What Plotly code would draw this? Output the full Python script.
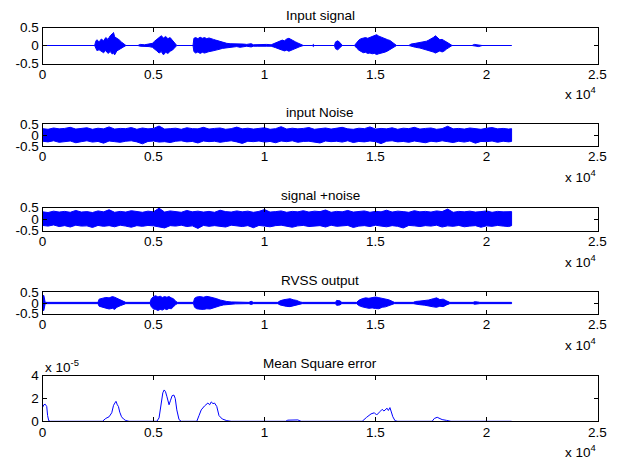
import plotly.graph_objects as go

# ---------------- data ----------------
titles = ["Input signal", "input Noise", "signal +noise", "RVSS output", "Mean Square error"]
x_tick_vals = [0, 5000, 10000, 15000, 20000, 25000]
x_tick_text = ["0", "0.5", "1", "1.5", "2", "2.5"]
y_tick_vals = [-0.5, 0, 0.5]
y_tick_text = ["-0.5", "0", "0.5"]
mse_tick_vals = [0, 2, 4]
mse_tick_text = ["0", "2", "4"]

# Input signal envelope (sample index, upper, lower)
sig_x = [0, 2350, 2400, 2450, 2550, 2650, 2750, 2850, 2950, 3050, 3150, 3200, 3250, 3350, 3450, 3550, 3650, 3760,
         4300, 4400, 4600, 4800, 4950, 5050, 5150, 5250, 5350, 5450, 5550, 5650, 5750, 5850, 5950, 6050,
         6780, 6820, 6900, 7000, 7100, 7200, 7300, 7400, 7500, 7600, 7700, 7800, 7900, 8000, 8100, 8200, 8300,
         8450, 8600, 8750, 8900, 9050, 9200, 9400, 9500, 9700, 9900, 10100, 10300,
         10400, 10500, 10600, 10700, 10800, 10900, 11000, 11100, 11200, 11300, 11400, 11500, 11600, 11750,
         12150, 12200, 12250, 13150, 13200, 13300, 13400, 13500,
         14050, 14150, 14250, 14350, 14450, 14550, 14650, 14750, 14850, 14950, 15050, 15150, 15250, 15350,
         15450, 15550, 15650, 15750, 15850, 15950,
         16500, 16600, 16800, 17000, 17200, 17300, 17400, 17500, 17600, 17700, 17800, 17900, 18000, 18100,
         18200, 18300, 18450, 19350, 19450, 19550, 19650, 19800, 21130]
sig_up = [0, 0, 0.12, 0.16, 0.10, 0.18, 0.13, 0.22, 0.17, 0.27, 0.33, 0.36, 0.24, 0.21, 0.16, 0.10, 0.05, 0,
          0, 0.03, 0.02, 0.04, 0.06, 0.12, 0.18, 0.22, 0.27, 0.21, 0.25, 0.19, 0.22, 0.14, 0.08, 0,
          0, 0.20, 0.22, 0.19, 0.23, 0.20, 0.22, 0.19, 0.21, 0.18, 0.17, 0.15, 0.13, 0.11, 0.09, 0.07, 0.06,
          0.05, 0.05, 0.04, 0.06, 0.04, 0.03, 0.05, 0.02, 0.03, 0.02, 0.03, 0.02,
          0.05, 0.07, 0.09, 0.12, 0.15, 0.13, 0.18, 0.20, 0.16, 0.12, 0.10, 0.07, 0.04, 0,
          0, 0.03, 0, 0, 0.10, 0.13, 0.08, 0,
          0, 0.08, 0.15, 0.19, 0.21, 0.22, 0.20, 0.23, 0.24, 0.27, 0.30, 0.26, 0.23, 0.21,
          0.19, 0.16, 0.14, 0.10, 0.05, 0,
          0, 0.04, 0.06, 0.08, 0.10, 0.12, 0.15, 0.18, 0.22, 0.27, 0.20, 0.16, 0.17, 0.14,
          0.11, 0.06, 0, 0, 0.03, 0.02, 0.03, 0, 0]
sig_lo = [0, 0, -0.08, -0.14, -0.12, -0.16, -0.20, -0.14, -0.22, -0.17, -0.24, -0.20, -0.26, -0.15, -0.13, -0.08, -0.04, 0,
          0, -0.02, -0.03, -0.03, -0.05, -0.10, -0.15, -0.21, -0.17, -0.26, -0.19, -0.22, -0.16, -0.13, -0.07, 0,
          0, -0.17, -0.21, -0.18, -0.22, -0.19, -0.21, -0.18, -0.17, -0.16, -0.15, -0.14, -0.12, -0.10, -0.08, -0.06, -0.05,
          -0.04, -0.04, -0.03, -0.05, -0.03, -0.02, -0.04, -0.02, -0.02, -0.01, -0.02, -0.02,
          -0.04, -0.06, -0.08, -0.10, -0.13, -0.15, -0.13, -0.16, -0.14, -0.11, -0.09, -0.06, -0.03, 0,
          0, -0.03, 0, 0, -0.09, -0.12, -0.07, 0,
          0, -0.07, -0.13, -0.17, -0.20, -0.19, -0.22, -0.21, -0.23, -0.22, -0.25, -0.23, -0.21, -0.19,
          -0.18, -0.15, -0.13, -0.09, -0.04, 0,
          0, -0.03, -0.05, -0.07, -0.09, -0.11, -0.14, -0.16, -0.18, -0.21, -0.17, -0.15, -0.18, -0.15,
          -0.10, -0.05, 0, 0, -0.03, -0.02, -0.03, 0, 0]

# Noise and signal+noise envelopes (every 250 samples up to the end at 21130)
band_x = list(range(0, 21001, 250)) + [21130]
noise_up = [0.30, 0.27, 0.33, 0.29, 0.31, 0.36, 0.28, 0.30, 0.34, 0.27,
            0.32, 0.29, 0.38, 0.28, 0.31, 0.30, 0.35, 0.27, 0.33, 0.29,
            0.31, 0.42, 0.28, 0.30, 0.32, 0.27, 0.34, 0.30, 0.29, 0.36,
            0.28, 0.31, 0.33, 0.27, 0.30, 0.37, 0.29, 0.32, 0.28, 0.31,
            0.34, 0.27, 0.30, 0.39, 0.28, 0.32, 0.29, 0.31, 0.35, 0.27,
            0.30, 0.33, 0.28, 0.31, 0.36, 0.29, 0.27, 0.32, 0.30, 0.38,
            0.28, 0.31, 0.29, 0.34, 0.27, 0.32, 0.30, 0.36, 0.28, 0.31,
            0.33, 0.27, 0.30, 0.41, 0.29, 0.31, 0.28, 0.33, 0.30, 0.27,
            0.32, 0.35, 0.29, 0.31, 0.28, 0.30]
noise_lo = [-0.28, -0.31, -0.26, -0.33, -0.29, -0.27, -0.35, -0.30, -0.26, -0.32,
            -0.29, -0.37, -0.27, -0.30, -0.33, -0.28, -0.26, -0.31, -0.40, -0.29,
            -0.27, -0.32, -0.30, -0.34, -0.28, -0.26, -0.31, -0.29, -0.36, -0.27,
            -0.30, -0.28, -0.33, -0.29, -0.26, -0.31, -0.38, -0.28, -0.30, -0.27,
            -0.32, -0.29, -0.35, -0.27, -0.30, -0.26, -0.33, -0.29, -0.28, -0.31,
            -0.36, -0.27, -0.30, -0.28, -0.32, -0.26, -0.34, -0.29, -0.31, -0.27,
            -0.30, -0.39, -0.28, -0.26, -0.31, -0.29, -0.33, -0.27, -0.30, -0.35,
            -0.28, -0.31, -0.26, -0.30, -0.34, -0.28, -0.32, -0.27, -0.37, -0.29,
            -0.30, -0.27, -0.33, -0.28, -0.31, -0.29]
sn_up = [0.32, 0.29, 0.35, 0.31, 0.34, 0.30, 0.38, 0.31, 0.33, 0.29,
         0.36, 0.32, 0.41, 0.30, 0.34, 0.31, 0.37, 0.33, 0.30, 0.35,
         0.32, 0.48, 0.31, 0.36, 0.33, 0.30, 0.38, 0.32, 0.35, 0.31,
         0.34, 0.30, 0.39, 0.33, 0.31, 0.36, 0.32, 0.35, 0.30, 0.34,
         0.42, 0.31, 0.33, 0.36, 0.30, 0.34, 0.32, 0.37, 0.31, 0.35,
         0.33, 0.40, 0.30, 0.34, 0.32, 0.38, 0.31, 0.33, 0.36, 0.30,
         0.34, 0.32, 0.39, 0.31, 0.35, 0.33, 0.30, 0.37, 0.32, 0.34,
         0.31, 0.36, 0.33, 0.44, 0.30, 0.34, 0.32, 0.35, 0.31, 0.33,
         0.36, 0.30, 0.34, 0.32, 0.31, 0.33]
sn_lo = [-0.27, -0.30, -0.25, -0.32, -0.28, -0.34, -0.26, -0.30, -0.29, -0.36,
         -0.27, -0.31, -0.28, -0.33, -0.26, -0.30, -0.35, -0.28, -0.31, -0.27,
         -0.29, -0.33, -0.38, -0.28, -0.30, -0.26, -0.32, -0.29, -0.40, -0.27,
         -0.31, -0.28, -0.30, -0.34, -0.26, -0.29, -0.32, -0.28, -0.37, -0.27,
         -0.30, -0.33, -0.28, -0.26, -0.31, -0.35, -0.29, -0.27, -0.32, -0.30,
         -0.28, -0.34, -0.26, -0.31, -0.29, -0.27, -0.36, -0.30, -0.28, -0.32,
         -0.26, -0.30, -0.33, -0.28, -0.31, -0.38, -0.27, -0.29, -0.32, -0.28,
         -0.30, -0.26, -0.34, -0.29, -0.31, -0.27, -0.33, -0.30, -0.28, -0.35,
         -0.29, -0.31, -0.27, -0.30, -0.32, -0.28]

# RVSS output envelope
rv_x = [0, 60, 120, 2500, 2550, 2700, 2850, 3000, 3150, 3250, 3350, 3500, 3650, 3750,
        4850, 4900, 5000, 5100, 5200, 5300, 5400, 5500, 5600, 5700, 5800, 5900, 6000, 6080,
        6800, 6850, 6950, 7100, 7250, 7400, 7550, 7700, 7850, 8000, 8150, 8300, 8500, 8700, 9300, 9400, 9500,
        10600, 10700, 10850, 11000, 11150, 11300, 11450, 11600, 11700,
        13200, 13250, 13400, 13480,
        14150, 14250, 14400, 14550, 14700, 14850, 15000, 15150, 15300, 15450, 15600, 15750, 15850,
        16700, 16800, 17000, 17200, 17400, 17600, 17750, 17900, 18050, 18200, 18350,
        19400, 19450, 19600, 19700, 21130]
rv_up = [0.35, 0.35, 0.03, 0.03, 0.18, 0.22, 0.26, 0.24, 0.30, 0.27, 0.22, 0.14, 0.06, 0.03,
         0.03, 0.20, 0.30, 0.34, 0.28, 0.32, 0.26, 0.30, 0.27, 0.30, 0.24, 0.20, 0.08, 0.03,
         0.03, 0.22, 0.28, 0.30, 0.27, 0.31, 0.28, 0.25, 0.20, 0.14, 0.10, 0.07, 0.05, 0.04, 0.03, 0.08, 0.03,
         0.03, 0.10, 0.15, 0.18, 0.20, 0.15, 0.12, 0.05, 0.03,
         0.03, 0.12, 0.10, 0.03,
         0.03, 0.13, 0.20, 0.24, 0.22, 0.26, 0.28, 0.25, 0.22, 0.20, 0.15, 0.08, 0.03,
         0.03, 0.07, 0.09, 0.11, 0.14, 0.20, 0.24, 0.16, 0.18, 0.10, 0.03,
         0.03, 0.06, 0.05, 0.03, 0.03]
rv_lo = [-0.35, -0.35, -0.03, -0.03, -0.15, -0.20, -0.24, -0.28, -0.25, -0.30, -0.20, -0.13, -0.06, -0.03,
         -0.03, -0.18, -0.28, -0.30, -0.35, -0.30, -0.33, -0.27, -0.31, -0.25, -0.27, -0.18, -0.07, -0.03,
         -0.03, -0.20, -0.27, -0.29, -0.30, -0.27, -0.28, -0.23, -0.19, -0.13, -0.09, -0.06, -0.05, -0.04, -0.03, -0.07, -0.03,
         -0.03, -0.09, -0.14, -0.16, -0.17, -0.14, -0.10, -0.05, -0.03,
         -0.03, -0.11, -0.09, -0.03,
         -0.03, -0.12, -0.18, -0.22, -0.25, -0.23, -0.26, -0.27, -0.20, -0.18, -0.14, -0.07, -0.03,
         -0.03, -0.06, -0.08, -0.10, -0.13, -0.18, -0.20, -0.15, -0.17, -0.09, -0.03,
         -0.03, -0.06, -0.05, -0.03, -0.03]

# Mean square error (values in units of 1e-5)
mse_x = [0, 60, 120, 190, 230, 280, 350,
         2700, 2850, 3000, 3120, 3200, 3260, 3310, 3370, 3420, 3480, 3560, 3650, 3750, 3900,
         5150, 5250, 5330, 5420, 5480, 5540, 5600, 5660, 5700, 5760, 5840, 5920, 5980, 6050, 6150, 6250,
         6950, 7050, 7150, 7300, 7450, 7530, 7600, 7680, 7750, 7850, 7950, 8100, 8300, 8500,
         10950, 11050, 11500, 11650,
         14400, 14600, 14800, 14950, 15050, 15200, 15300, 15380, 15450, 15520, 15580, 15650, 15700, 15780, 15880, 16000,
         17550, 17650, 17780, 17900, 18000, 18200, 18400,
         21130]
mse_e5 = [1.2, 1.45, 1.5, 1.3, 0.5, 0.05, 0,
          0, 0.25, 0.4, 0.75, 1.4, 1.6, 1.75, 1.45, 1.3, 0.8, 0.4, 0.2, 0.07, 0,
          0, 0.3, 1.4, 2.5, 2.75, 2.6, 2.2, 1.6, 1.45, 1.8, 2.25, 2.3, 2.0, 1.0, 0.15, 0,
          0, 0.5, 1.0, 1.35, 1.6, 1.45, 1.7, 1.55, 1.6, 1.3, 0.5, 0.2, 0.06, 0,
          0, 0.1, 0.12, 0,
          0, 0.35, 0.65, 0.75, 0.55, 0.85, 1.05, 0.9, 1.0, 1.15, 0.95, 1.2, 0.9, 0.4, 0.05, 0,
          0, 0.25, 0.35, 0.2, 0.15, 0.08, 0,
          0]

# ---------------- layout helpers ----------------
W, H = 617, 464
X_LEFT, X_RIGHT = 42.5, 597.5
# (top, bottom) pixel rows of each axes box
boxes = [(27.5, 63.5), (124.3, 146.0), (207.7, 230.7), (292.3, 313.7), (375.7, 421.3)]
FONT = dict(family="Liberation Sans, Arial, sans-serif", size=13.5, color="black")
BLUE = "rgb(0,0,255)"


def py(p):
    return 1 - p / H


def px(p):
    return p / W


fig = go.Figure()


def band(xs, up, lo, idx):
    assert len(xs) == len(up) == len(lo)
    ax = "" if idx == 1 else str(idx)
    fig.add_trace(go.Scatter(
        x=list(xs) + list(xs)[::-1], y=list(up) + list(lo)[::-1],
        mode="lines", fill="toself", fillcolor=BLUE,
        line=dict(color=BLUE, width=1), hoverinfo="skip",
        xaxis="x" + ax, yaxis="y" + ax, showlegend=False))


band(sig_x, sig_up, sig_lo, 1)
band(band_x, noise_up, noise_lo, 2)
band(band_x, sn_up, sn_lo, 3)
band(rv_x, rv_up, rv_lo, 4)
assert len(mse_x) == len(mse_e5)
fig.add_trace(go.Scatter(x=mse_x, y=mse_e5, mode="lines", line=dict(color=BLUE, width=1),
                         hoverinfo="skip", xaxis="x5", yaxis="y5", showlegend=False))

axis_common = dict(showline=True, linecolor="black", linewidth=1, mirror="ticks",
                   ticks="inside", ticklen=4, tickcolor="black", tickwidth=1,
                   showgrid=False, zeroline=False, tickfont=FONT, fixedrange=True,
                   automargin=False)

layout = dict(width=W, height=H, margin=dict(l=0, r=0, t=0, b=0, pad=0, autoexpand=False),
              paper_bgcolor="white", plot_bgcolor="white", showlegend=False)
annotations = []
for i, (top, bot) in enumerate(boxes, start=1):
    ax = "" if i == 1 else str(i)
    layout["xaxis" + ax] = dict(axis_common, domain=[px(X_LEFT), px(X_RIGHT)], range=[0, 25000],
                                tickmode="array", tickvals=x_tick_vals, ticktext=x_tick_text,
                                anchor="y" + ax, ticklabelstandoff=-2)
    if i < 5:
        yv, yt, yr = y_tick_vals, y_tick_text, [-0.5, 0.5]
    else:
        yv, yt, yr = mse_tick_vals, mse_tick_text, [0, 4]
    layout["yaxis" + ax] = dict(axis_common, domain=[py(bot), py(top)], range=yr,
                                tickmode="array", tickvals=yv, ticktext=yt, anchor="x" + ax)
    # title
    annotations.append(dict(text=titles[i - 1], xref="paper", yref="paper",
                            x=px((X_LEFT + X_RIGHT) / 2), y=py(top - 12),
                            xanchor="center", yanchor="middle", showarrow=False, font=FONT))
    # x exponent
    annotations.append(dict(text="x 10<sup>4</sup>", xref="paper", yref="paper",
                            x=px(X_RIGHT), y=py(bot + 30), xanchor="right", yanchor="middle",
                            showarrow=False, font=FONT))

annotations.append(dict(text="x 10<sup>-5</sup>", xref="paper", yref="paper",
                        x=px(X_LEFT), y=py(boxes[4][0] - 10), xanchor="left", yanchor="middle",
                        showarrow=False, font=FONT))
layout["annotations"] = annotations
fig.update_layout(**layout)
fig.write_html("out.html", config={"displayModeBar": False, "staticPlot": True},
               post_script="document.body.style.margin='0';document.body.style.padding='0';"
                           "document.body.style.overflow='hidden';")
